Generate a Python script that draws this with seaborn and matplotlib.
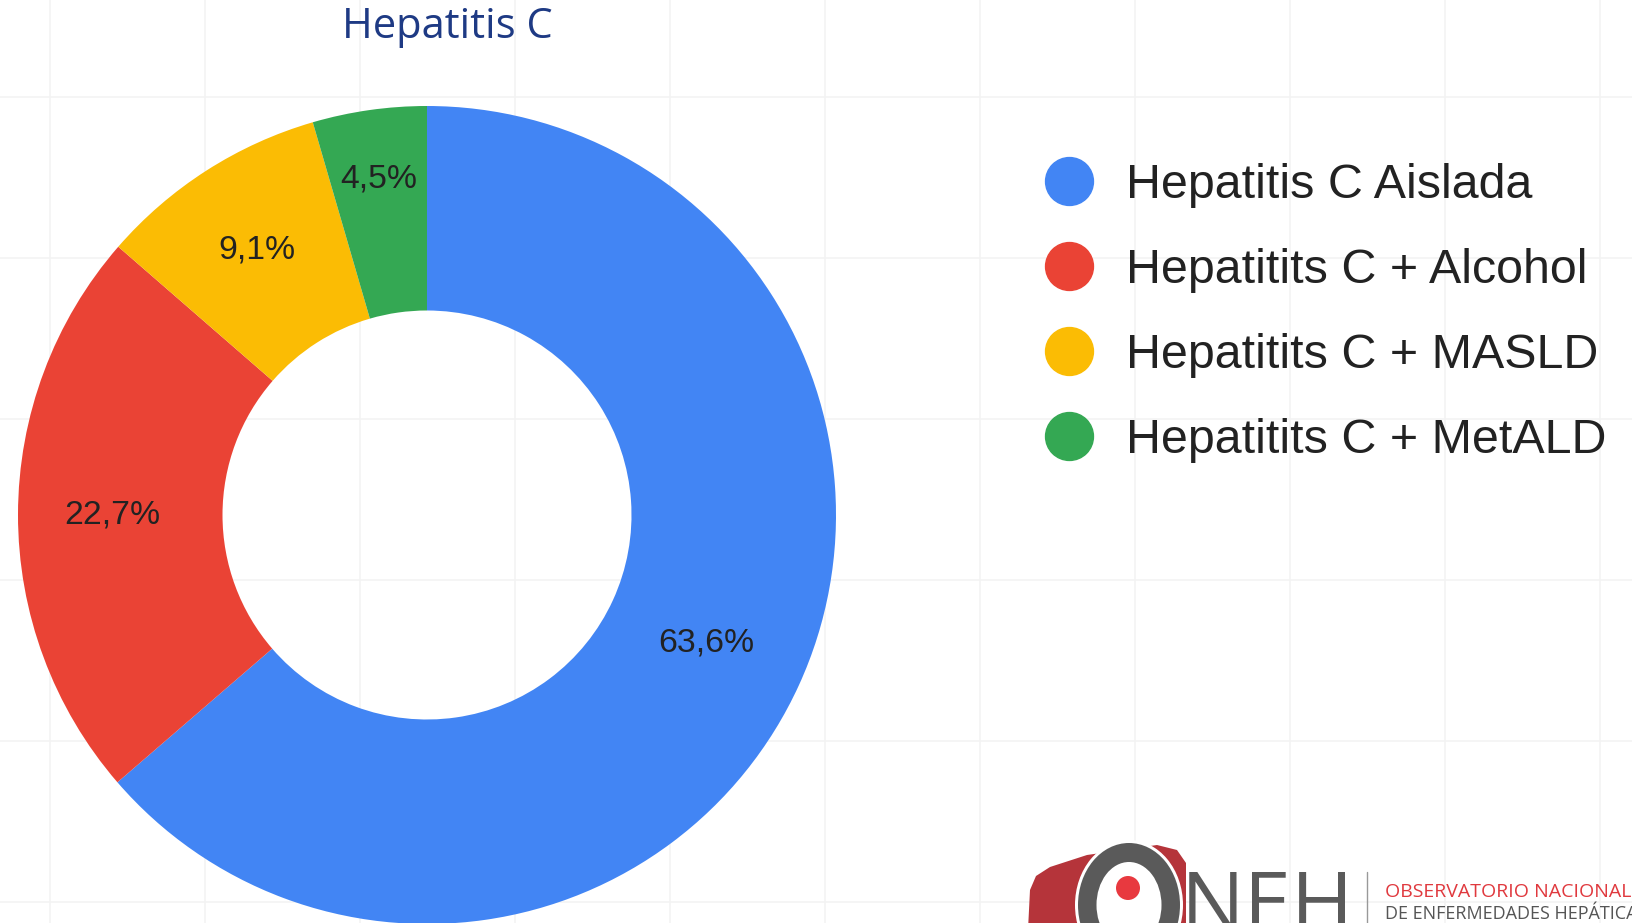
import numpy as np
import matplotlib.pyplot as plt
import seaborn as sns
from matplotlib.lines import Line2D
from matplotlib.patches import Polygon, Ellipse, Circle

# Chart data
TITLE = 'Hepatitis C'
CATEGORIES = ['Hepatitis C Aislada', 'Hepatitits C + Alcohol',
              'Hepatitits C + MASLD', 'Hepatitits C + MetALD']
SHARES = [63.6, 22.7, 9.1, 4.5]
COLORS = ['#4285F4', '#EA4335', '#FBBC04', '#34A853']

W, H = 1632, 923
# label distance from the centre (narrow slices push the label outwards)
LABEL_R = [0.75, 0.77, 0.77, 0.83]


def to_fig(x, y):
    """pixel coords (y down) -> figure fraction"""
    return x / W, 1 - y / H


sns.set_style('white')
plt.rcParams['font.family'] = ['Liberation Sans', 'DejaVu Sans']

fig = plt.figure(figsize=(W / 100, H / 100), dpi=100)

# faint background grid
bg = fig.add_axes([0, 0, 1, 1])
bg.set_xlim(0, W)
bg.set_ylim(H, 0)
bg.set_xticks(np.arange(50, W, 155))
bg.set_yticks(np.arange(97, H, 161))
bg.tick_params(length=0, labelbottom=False, labelleft=False)
bg.grid(True, color='#f3f3f3', linewidth=1.1)
for s in bg.spines.values():
    s.set_visible(False)

# donut
cx, cy, r = 427, 515, 409
ax = fig.add_axes([(cx - r) / W, (H - cy - r) / H, 2 * r / W, 2 * r / H])
wedges, _ = ax.pie(SHARES, colors=COLORS, startangle=90, counterclock=False,
                   radius=1, wedgeprops=dict(width=0.5, linewidth=0))
ax.set_xlim(-1, 1)
ax.set_ylim(-1, 1)
ax.axis('off')
for w, v, lr in zip(wedges, SHARES, LABEL_R):
    ang = np.deg2rad((w.theta1 + w.theta2) / 2)
    ax.text(lr * np.cos(ang), lr * np.sin(ang), f'{v:.1f}%'.replace('.', ','),
            ha='center', va='center', fontsize=24.3, color='#222222')

# title
fig.text(*to_fig(447, 27), TITLE, ha='center', va='center', fontsize=30,
         color='#1E3A84', family=['Open Sans', 'DejaVu Sans'])

# legend
handles = [Line2D([], [], marker='o', linestyle='', markersize=34.5,
                  markerfacecolor=c, markeredgecolor=c) for c in COLORS]
fig.legend(handles, CATEGORIES, loc='upper left',
           bbox_to_anchor=to_fig(996, 119), frameon=False, fontsize=34.8,
           labelspacing=0.83, handletextpad=0.6, handlelength=1.2,
           labelcolor='#222222')

# ONEH logo (bottom right, cut by the figure edge)
bg.add_patch(Polygon([(1028, 930), (1030, 890), (1036, 876), (1050, 867),
                      (1087, 855), (1157, 845), (1177, 850), (1186, 863),
                      (1186, 930)],
                     closed=True, facecolor='#B5343A', edgecolor='none', zorder=3))
bg.add_patch(Ellipse((1129, 905), 108, 130, facecolor='white', edgecolor='none', zorder=4))
bg.add_patch(Ellipse((1129, 905), 102, 124, facecolor='#5a5a5a', edgecolor='none', zorder=5))
bg.add_patch(Ellipse((1129, 905), 65, 86, facecolor='white', edgecolor='none', zorder=6))
bg.add_patch(Circle((1128, 888), 12, facecolor='#E8393F', edgecolor='none', zorder=7))
bg.text(1181, 932, 'NEH', fontsize=61, color='#5a5a5a', va='baseline', ha='left',
        family=['Open Sans', 'DejaVu Sans'], zorder=5)
bg.plot([1367, 1367], [872, 923], color='#999999', linewidth=1, zorder=5)
bg.text(1385, 897, 'OBSERVATORIO NACIONAL', fontsize=14, color='#E0393E',
        va='baseline', ha='left', family=['Open Sans', 'DejaVu Sans'], zorder=5)
bg.text(1385, 919, 'DE ENFERMEDADES HEPÁTICAS', fontsize=13, color='#555555',
        va='baseline', ha='left', family=['Open Sans', 'DejaVu Sans'], zorder=5)

fig.savefig('out.png', dpi=100)
